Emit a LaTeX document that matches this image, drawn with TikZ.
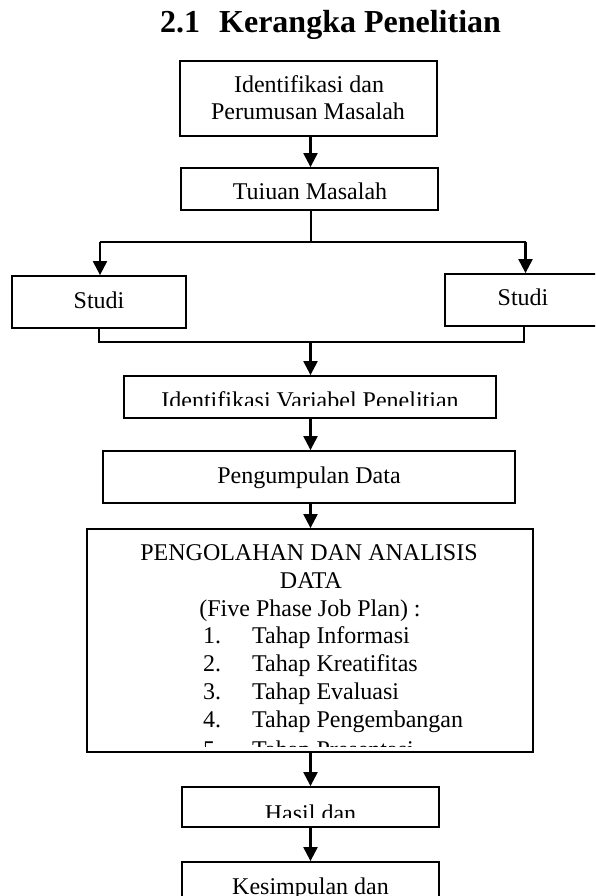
\documentclass[tikz,border=0pt]{standalone}
\usepackage{fontspec}
\setmainfont{Liberation Serif}
\usetikzlibrary{arrows.meta}
\tikzset{
  box/.style={draw,line width=1.8pt,inner sep=0pt,rectangle},
  lbl/.style={anchor=base,inner sep=0pt,font=\fontsize{24}{27.5}\selectfont},
  lblw/.style={anchor=base west,inner sep=0pt,font=\fontsize{24}{27.5}\selectfont},
  ln/.style={line width=2pt},
  arr/.style={line width=2.2pt,-{Triangle[length=14pt,width=14pt]}}
}
\begin{document}
\begin{tikzpicture}[x=1pt,y=-1pt]
\useasboundingbox (0,0) rectangle (595,896);
\begin{scope}
\clip (0,0) rectangle (595,896);
% title
\node[anchor=base west,inner sep=0pt,font=\bfseries\fontsize{32}{35}\selectfont] (title) at (160,33) {2.1\hspace{19pt}Kerangka Penelitian};
% boxes
\coordinate (ax) at (310.5,0);
\node[box,minimum width=257pt,minimum height=75pt] (b1) at (308.5,98.5) {};
\node[box,minimum width=257pt,minimum height=42pt] (b2) at (309.5,189) {};
\node[box,minimum width=174pt,minimum height=52pt] (sL) at (99,302) {};
\node[box,minimum width=165pt,minimum height=52pt] (sR) at (527.5,300) {};
\node[box,minimum width=372pt,minimum height=42pt] (b3) at (310,397) {};
\node[box,minimum width=412pt,minimum height=52pt] (b4) at (309,477) {};
\node[box,minimum width=446pt,minimum height=223pt] (b5) at (310,640.5) {};
\node[box,minimum width=257pt,minimum height=40pt] (b6) at (310.5,807) {};
\node[box,minimum width=257pt,minimum height=58pt] (b7) at (310.5,891) {};
% texts
\node[lbl] (t1a) at (309,93) {Identifikasi dan};
\node[lbl] (t1b) at (308,120) {Perumusan Masalah};
\node[lbl] (t2) at (310,200) {Tuiuan Masalah};
\node[lbl] (tL) at (99,308) {Studi};
\node[lbl] (tR) at (523,305) {Studi};
\begin{scope}
\clip (120,370) rectangle (500,405);
\node[lbl] (t3) at (310,408) {Identifikasi Variabel Penelitian};
\end{scope}
\node[lbl] (t4) at (309,483) {Pengumpulan Data};
\node[lbl] (t5a) at (309,560) {PENGOLAHAN DAN ANALISIS};
\node[lbl] (t5b) at (311,588) {DATA};
\node[lbl] (t5c) at (310,616) {(Five Phase Job Plan) :};
\node[lblw] (n1) at (203,643) {1.};
\node[lblw] (i1) at (252,643) {Tahap Informasi};
\node[lblw] (n2) at (203,671) {2.};
\node[lblw] (i2) at (252,671) {Tahap Kreatifitas};
\node[lblw] (n3) at (203,699) {3.};
\node[lblw] (i3) at (252,699) {Tahap Evaluasi};
\node[lblw] (n4) at (203,727) {4.};
\node[lblw] (i4) at (252,727) {Tahap Pengembangan};
\begin{scope}
\clip (90,730) rectangle (530,746);
\node[lblw] (n5) at (203,757) {5.};
\node[lblw] (i5) at (252,757) {Tahap Presentasi};
\end{scope}
\begin{scope}
\clip (185,790) rectangle (435,817);
\node[lbl] (t6) at (310.5,821) {Hasil dan};
\end{scope}
\node[lbl] (t7) at (310.5,894) {Kesimpulan dan};
% connectors
\draw[arr] (b1.south -| ax) -- (b2.north -| ax);
\coordinate (bm) at (310.5,242);
\coordinate (bl) at (100,242);
\coordinate (brr) at (525.5,242);
\draw[ln] (b2.south -| ax) -- (bm);
\draw[ln] (bl) -- (brr);
\draw[arr] (bl) -- (bl |- sL.north);
\draw[arr] (brr) -- (brr |- sR.north);
\coordinate (jl) at (99,342);
\coordinate (jr) at (524,342);
\coordinate (jm) at (310.5,342);
\draw[ln] (sL.south -| jl) -- (jl) -- (jr) -- (sR.south -| jr);
\draw[arr] (jm) -- (b3.north -| ax);
\draw[arr] (b3.south -| ax) -- (b4.north -| ax);
\draw[arr] (b4.south -| ax) -- (b5.north -| ax);
\draw[arr] (b5.south -| ax) -- (b6.north -| ax);
\draw[arr] (b6.south -| ax) -- (b7.north -| ax);
\end{scope}
\end{tikzpicture}
\end{document}
